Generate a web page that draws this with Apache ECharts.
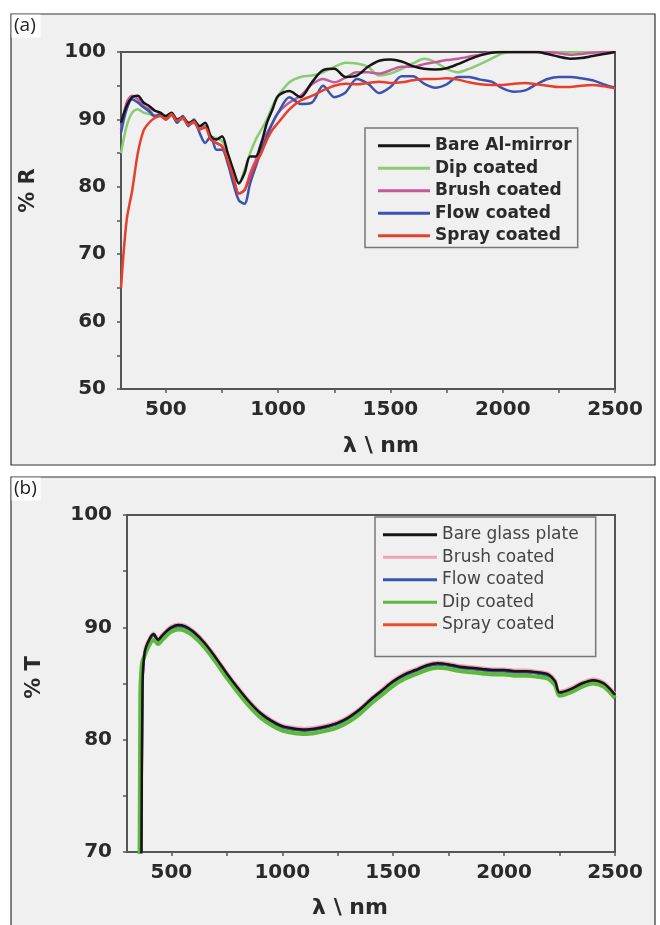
<!DOCTYPE html>
<html>
<head>
<meta charset="utf-8">
<script src="https://cdn.jsdelivr.net/npm/echarts@6/dist/echarts.min.js"></script>
<style>
	body { margin: 0; background: #fff; }
	#main { width: 660px; height: 925px; }
</style>
</head>
<body>
<div id="main"></div>
<script>
// (a) reflectance, wavelength in nm
var wlA = [300, 325, 350, 375, 400, 425, 450, 475, 500, 525, 550, 575, 600, 625, 650, 675, 700, 725, 750, 775, 800, 825, 850, 875, 900, 925, 950, 975, 1000,
	1050, 1100, 1150, 1200, 1250, 1300, 1350, 1400, 1450, 1500, 1550, 1600, 1650, 1700, 1750, 1800, 1850, 1900, 1950, 2000, 2050, 2100, 2150, 2200, 2250, 2300, 2350, 2400, 2450, 2500];
var bareAl = [89.5, 92, 93.3, 93.5, 92.5, 92, 91.3, 91, 90.5, 91, 90, 90.3, 89.5, 89.8, 89, 89.5, 87.5, 87, 87.5, 85, 82.5, 80.5, 82, 84.5, 84.5, 86.5, 89.5, 91.5, 93.5,
	94.2, 93.3, 95.5, 97.3, 97.5, 96.3, 96.5, 97.8, 98.7, 98.9, 98.6, 97.9, 97.5, 97.4, 97.6, 98.2, 98.9, 99.5, 99.9, 100, 100, 100, 100, 99.7, 99.3, 99, 99.1, 99.4, 99.7, 100];
var dipA = [85, 89, 91, 91.5, 91, 90.8, 90.5, 90.5, 90, 90.5, 89.8, 90, 89.3, 89.5, 88.8, 89, 87.5, 87.2, 86.8, 85, 82.5, 80.5, 82.5, 85, 87, 88.5, 90, 92, 93.5,
	95.5, 96.3, 96.5, 97, 97.8, 98.4, 98.3, 97.8, 96.5, 96.8, 97.5, 98.3, 99, 98.5, 97.5, 97, 97.5, 98.2, 99, 99.8, 100, 100, 100, 100, 100, 100, 100, 100, 100, 100];
var brushA = [88.5, 92.5, 93.5, 93, 92, 91.5, 90.5, 90.8, 90.2, 90.7, 89.8, 90.2, 89.3, 89.5, 88.5, 89, 87, 86.5, 86, 84, 81.5, 79, 79.5, 82, 84, 86.5, 88, 89.5, 91,
	92.5, 93.5, 95.2, 96, 95.5, 96.2, 97, 97, 96.8, 97.3, 97.8, 97.8, 98.2, 98.5, 98.8, 99, 99.3, 99.6, 100, 100, 100, 100, 100, 100, 99.8, 99.6, 99.7, 99.9, 100, 100];
var flowA = [88, 91.5, 93, 92.5, 91.8, 91.2, 90.5, 90.7, 90, 90.8, 89.5, 90.5, 89, 90, 88, 86.5, 87.5, 85.5, 85.5, 83.5, 80.5, 78, 77.5, 80.5, 83, 85.5, 87.5, 89.5, 91,
	93.3, 92.3, 92.5, 95, 93.3, 94, 96, 95.3, 93.9, 94.8, 96.4, 96.4, 95.3, 94.7, 95.2, 96.3, 96.3, 95.9, 95.6, 94.6, 94.1, 94.3, 95.2, 96, 96.3, 96.3, 96.1, 95.8, 95.2, 94.7];
var sprayA = [65, 75, 79.5, 85, 88.3, 89.5, 90.2, 90.5, 90, 90.8, 89.8, 90.3, 89.2, 89.7, 88.5, 88.8, 87, 86.5, 86, 84, 81.5, 79, 79.5, 81.5, 83.5, 85, 87, 88.5, 89.5,
	91.5, 92.8, 93.5, 94.3, 95, 95.3, 95.2, 95.4, 95.6, 95.4, 95.5, 95.8, 96, 96, 96.1, 95.9, 95.5, 95.2, 95.1, 95.1, 95.3, 95.4, 95.2, 95, 94.8, 94.8, 95, 95.1, 94.9, 94.6];

// (b) transmittance
var wlB = [350, 355, 360, 365, 370, 380, 400, 420, 440, 460, 480, 500, 530, 560,
	600, 650, 700, 750, 800, 850, 900, 950, 1000, 1050, 1100, 1150, 1200, 1250, 1300, 1350, 1400, 1450, 1500, 1550, 1600, 1650, 1700, 1750, 1800, 1850, 1900, 1950, 2000, 2050, 2100, 2150, 2200,
	2230, 2250, 2300, 2350, 2400, 2450, 2500];
var bareGlass = [60, 60, 62, 70, 85, 87.8, 88.9, 89.4, 88.9, 89.3, 89.7, 90, 90.2, 90.1,
	89.6, 88.6, 87.3, 85.9, 84.6, 83.4, 82.4, 81.7, 81.2, 81, 80.9, 81, 81.2, 81.5, 82, 82.7, 83.6, 84.4, 85.2, 85.8, 86.2, 86.6, 86.8, 86.7, 86.5, 86.4, 86.3, 86.2, 86.2, 86.1, 86.1, 86, 85.8,
	85.2, 84.2, 84.5, 85, 85.3, 85, 84];
var brushB = [60, 60, 63, 72, 85.2, 88, 89, 89.5, 89, 89.4, 89.8, 90.1, 90.3, 90.2,
	89.7, 88.7, 87.4, 86, 84.7, 83.5, 82.5, 81.8, 81.3, 81.1, 81, 81.1, 81.3, 81.6, 82.1, 82.8, 83.7, 84.5, 85.3, 85.9, 86.3, 86.7, 86.9, 86.8, 86.6, 86.5, 86.4, 86.3, 86.3, 86.2, 86.2, 86.1, 85.9,
	85.3, 84.3, 84.6, 85.1, 85.4, 85.1, 84.1];
var flowB = [60, 60, 62, 71, 85, 87.7, 88.8, 89.3, 88.8, 89.2, 89.6, 89.9, 90.1, 90,
	89.5, 88.5, 87.2, 85.8, 84.5, 83.3, 82.3, 81.6, 81.1, 80.9, 80.8, 80.9, 81.1, 81.4, 81.9, 82.6, 83.5, 84.3, 85.1, 85.7, 86.1, 86.5, 86.7, 86.6, 86.4, 86.3, 86.2, 86.1, 86.1, 86, 86, 85.9, 85.6,
	84.9, 84, 84.3, 84.9, 85.2, 84.9, 83.9];
var dipB = [50, 60, 84, 86.3, 87, 87.5, 88.4, 88.9, 88.5, 88.9, 89.3, 89.6, 89.8, 89.7,
	89.2, 88.2, 86.9, 85.5, 84.2, 83, 82, 81.3, 80.8, 80.6, 80.5, 80.6, 80.8, 81.1, 81.6, 82.3, 83.2, 84, 84.8, 85.4, 85.8, 86.2, 86.4, 86.3, 86.1, 86, 85.9, 85.8, 85.8, 85.7, 85.7, 85.6, 85.4,
	84.8, 83.9, 84.2, 84.7, 85, 84.7, 83.7];
var sprayB = [60, 60, 62, 70, 84.8, 87.7, 88.8, 89.3, 88.8, 89.2, 89.6, 89.9, 90.1, 90,
	89.5, 88.5, 87.2, 85.8, 84.5, 83.3, 82.3, 81.6, 81.1, 80.9, 80.8, 80.9, 81.1, 81.4, 81.9, 82.6, 83.5, 84.3, 85.1, 85.7, 86.1, 86.5, 86.7, 86.6, 86.4, 86.3, 86.2, 86.1, 86.1, 86, 86, 85.9, 85.7,
	85.1, 84.1, 84.4, 84.9, 85.2, 84.9, 83.9];

var xTicks = [500, 750, 1000, 1250, 1500, 1750, 2000, 2250, 2500];
var xLabels = [500, 1000, 1500, 2000, 2500];

var colA = { bare: '#161616', dip: '#8ccb76', brush: '#c45a9c', flow: '#3c52b0', spray: '#e6402c' };
var colB = { bare: '#151515', brush: '#f0a2b8', flow: '#3a58a8', dip: '#5db83e', spray: '#e8502c' };

function pairs(xs, ys) {
	return xs.map(function (x, i) { return [x, ys[i]]; });
}

var boldFont = { fontFamily: 'DejaVu Sans', fontWeight: 'bold', color: '#2a2a2a' };
var axisColor = '#555';

function plain(v) {
	return String(v);
}

function xAxisOf(idx, gap, pad) {
	return {
		type: 'value', gridIndex: idx, min: 300, max: 2500,
		name: 'λ \\ nm', nameLocation: 'middle', nameGap: gap,
		nameTextStyle: Object.assign({ fontSize: 22, padding: pad }, boldFont),
		axisLine: { lineStyle: { color: axisColor, width: 2 } },
		axisTick: { customValues: xTicks, length: 4, lineStyle: { color: axisColor, width: 1.5 } },
		axisLabel: Object.assign({ customValues: xLabels, margin: 11, fontSize: 20, formatter: plain }, boldFont),
		splitLine: { show: false }
	};
}

function yAxisOf(idx, min, name, pad) {
	return {
		type: 'value', gridIndex: idx, min: min, max: 100, interval: 10,
		name: name, nameLocation: 'middle', nameGap: 82,
		nameTextStyle: Object.assign({ fontSize: 21, padding: pad }, boldFont),
		axisLine: { lineStyle: { color: axisColor, width: 2 } },
		axisTick: { length: 4, lineStyle: { color: axisColor, width: 1.5 } },
		minorTick: { show: true, splitNumber: 2, length: 4, lineStyle: { color: axisColor, width: 1.5 } },
		axisLabel: Object.assign({ margin: 15, fontSize: 20, formatter: plain }, boldFont),
		splitLine: { show: false }
	};
}

function line(name, idx, xs, ys, color, width) {
	return {
		name: name, type: 'line', xAxisIndex: idx, yAxisIndex: idx,
		data: pairs(xs, ys), symbol: 'none', smooth: 0.3,
		itemStyle: { color: color },
		lineStyle: { color: color, width: width }
	};
}

function panel(x, y, w, h, label) {
	return [
		{ type: 'rect', z: -10, silent: true, shape: { x: x, y: y, width: w, height: h },
			style: { fill: '#f0f0f0', stroke: '#333', lineWidth: 1.2 } },
		{ type: 'rect', z: -9, silent: true, shape: { x: x + 0.6, y: y + 0.6, width: 29, height: 23 },
			style: { fill: '#fff' } },
		{ type: 'text', z: -8, silent: true, x: x + 3, y: y + 2,
			style: { text: label, font: '19px "Open Sans"', fill: '#222' } }
	];
}

var chart = echarts.init(document.getElementById('main'));

var option = {
	animation: false,
	backgroundColor: '#fff',
	graphic: panel(11, 14, 644, 451, '(a)').concat(panel(11, 477, 644, 460, '(b)')),
	grid: [
		{ left: 121, top: 52, width: 494, height: 337, show: true, borderColor: axisColor, borderWidth: 2, backgroundColor: 'transparent' },
		{ left: 127, top: 515, width: 488, height: 337, show: true, borderColor: axisColor, borderWidth: 2, backgroundColor: 'transparent' }
	],
	xAxis: [xAxisOf(0, 46, [0, 0, 0, 26]), xAxisOf(1, 45, [0, 42, 0, 0])],
	yAxis: [yAxisOf(0, 50, '% R', [0, 0, 0, 60]), yAxisOf(1, 70, '% T', [0, 0, 0, 12])],
	legend: [
		{
			orient: 'vertical', left: 365, top: 128, padding: [9, 6, 3, 13],
			itemWidth: 52, itemHeight: 3, itemGap: 5, icon: 'rect',
			borderColor: '#777', borderWidth: 1.5,
			textStyle: { fontFamily: 'DejaVu Sans', fontWeight: 'bold', fontSize: 17, lineHeight: 17.5, color: '#2a2a2a' },
			data: [
				{ name: 'Bare Al-mirror', itemStyle: { color: colA.bare } },
				{ name: 'Dip coated', itemStyle: { color: colA.dip } },
				{ name: 'Brush coated', itemStyle: { color: colA.brush } },
				{ name: 'Flow coated', itemStyle: { color: colA.flow } },
				{ name: 'Spray coated', itemStyle: { color: colA.spray } }
			]
		},
		{
			orient: 'vertical', left: 375, top: 517, padding: [9, 17, 23, 8],
			itemWidth: 54, itemHeight: 3, itemGap: 5, icon: 'rect',
			borderColor: '#777', borderWidth: 1.5,
			textStyle: { fontFamily: 'DejaVu Sans', fontSize: 17, lineHeight: 17.5, color: '#444' },
			data: [
				{ name: 'Bare glass plate', itemStyle: { color: colB.bare } },
				{ name: 'Brush coated', itemStyle: { color: colB.brush } },
				{ name: 'Flow coated', itemStyle: { color: colB.flow } },
				{ name: 'Dip coated', itemStyle: { color: colB.dip } },
				{ name: 'Spray coated', itemStyle: { color: colB.spray } }
			]
		}
	],
	series: [
		line('Dip coated', 0, wlA, dipA, colA.dip, 2.5),
		line('Brush coated', 0, wlA, brushA, colA.brush, 2.5),
		line('Flow coated', 0, wlA, flowA, colA.flow, 2.5),
		line('Bare Al-mirror', 0, wlA, bareAl, colA.bare, 2.5),
		line('Spray coated', 0, wlA, sprayA, colA.spray, 2.5),

		line('Spray coated', 1, wlB, sprayB, colB.spray, 2.5),
		line('Brush coated', 1, wlB, brushB, colB.brush, 3),
		line('Flow coated', 1, wlB, flowB, colB.flow, 2.5),
		line('Dip coated', 1, wlB, dipB, colB.dip, 4),
		line('Bare glass plate', 1, wlB, bareGlass, colB.bare, 2.5)
	]
};

chart.setOption(option);
</script>
</body>
</html>
